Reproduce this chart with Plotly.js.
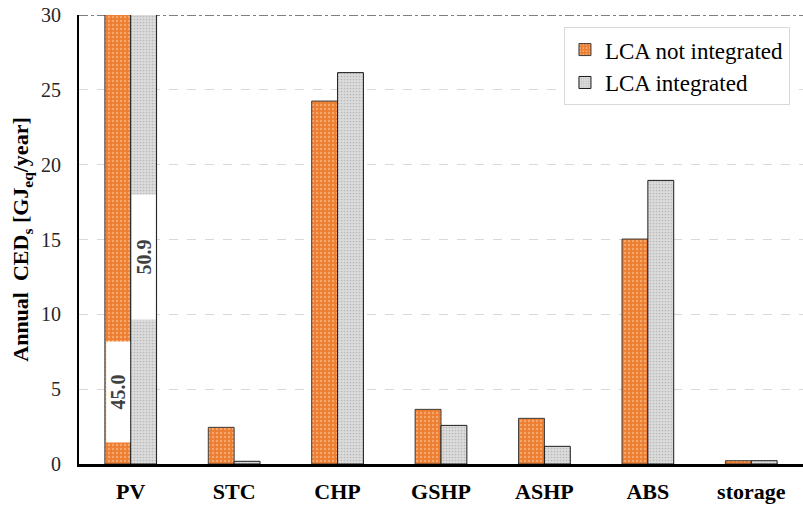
<!DOCTYPE html>
<html>
<head>
<meta charset="utf-8">
<script src="https://cdn.plot.ly/plotly-3.0.1.min.js"></script>
<style>
  html, body { margin: 0; padding: 0; background: #ffffff; }
  #chart { width: 803px; height: 508px; }
</style>
</head>
<body>
<div id="chart"></div>
<script>
// Technologies on the x axis
const categories = ['PV', 'STC', 'CHP', 'GSHP', 'ASHP', 'ABS', 'storage'];
// Annual cumulative energy demand per technology [GJeq/year]
const lcaNotIntegrated = [45.0, 2.45, 24.25, 3.65, 3.05, 15.03, 0.22];
const lcaIntegrated    = [50.9, 0.18, 26.15, 2.58, 1.18, 18.95, 0.22];
const seriesNames = ['LCA not integrated', 'LCA integrated'];
const yTicks = [0, 5, 10, 15, 20, 25, 30];

const serif = 'Liberation Serif';
const yMax = 30;

const traces = [
  {
    type: 'bar', name: seriesNames[0], x: categories, y: lcaNotIntegrated,
    marker: {
      color: '#ED7D31',
      line: { color: '#3a3a3a', width: 1 },
      pattern: { shape: '.', bgcolor: '#ED7D31', fgcolor: '#F5A86C', size: 4, solidity: 0.3 }
    },
    hoverinfo: 'x+y'
  },
  {
    type: 'bar', name: seriesNames[1], x: categories, y: lcaIntegrated,
    marker: {
      color: '#DADADA',
      line: { color: '#1a1a1a', width: 1 },
      pattern: { shape: '.', bgcolor: '#DCDCDC', fgcolor: '#B8B8B8', size: 3, solidity: 0.25 }
    },
    hoverinfo: 'x+y'
  }
];

// Values that run past the top of the axis are written inside their bars
const annotations = [];
const series = [lcaNotIntegrated, lcaIntegrated];
const boxLen = [100, 124];
const labelY = [4.8, 13.8];
series.forEach((vals, s) => {
  vals.forEach((v, i) => {
    if (v > yMax) {
      annotations.push({
        xref: 'x', yref: 'y',
        x: i + (s === 0 ? -0.125 : 0.125), y: labelY[s],
        text: '<b>' + v.toFixed(1) + '</b>',
        showarrow: false, textangle: -90,
        bgcolor: '#ffffff', borderpad: 0,
        width: boxLen[s], height: 23,
        font: { family: serif, size: 20, color: '#404040' }
      });
    }
  });
});

const layout = {
  width: 803, height: 508,
  margin: { l: 79, r: 0, t: 15, b: 44 },
  paper_bgcolor: '#ffffff', plot_bgcolor: '#ffffff',
  font: { family: serif, color: '#000000' },
  barmode: 'group', bargap: 0.5, bargroupgap: 0,
  showlegend: true,
  legend: {
    x: 0.982, xanchor: 'right', y: 0.973, yanchor: 'top',
    bgcolor: '#ffffff', bordercolor: '#d9d9d9', borderwidth: 1,
    font: { family: 'Times New Roman', size: 23, color: '#000000' }
  },
  xaxis: {
    type: 'category', range: [-0.5, 6.5],
    showline: true, linecolor: '#000000', linewidth: 2.5,
    showgrid: false, zeroline: false, ticks: '',
    tickfont: { family: serif, size: 22, color: '#000000', weight: 'bold' },
    ticklabelstandoff: 6
  },
  yaxis: {
    range: [0, yMax], tickvals: yTicks, ticktext: yTicks.map(String),
    showline: true, linecolor: '#000000', linewidth: 2,
    showgrid: true, gridcolor: '#d9d9d9', griddash: 'dash', gridwidth: 1,
    zeroline: false, ticks: '',
    tickfont: { family: serif, size: 20, color: '#262626' },
    ticklabelstandoff: 12,
    title: {
      text: '<b>Annual  CED<sub>s</sub> [GJ<sub>eq</sub>/year]</b>',
      font: { family: serif, size: 22, color: '#000000' },
      standoff: 6
    },
    automargin: false
  },
  shapes: [
    {
      type: 'line', xref: 'paper', yref: 'y', x0: 0, x1: 1, y0: yMax, y1: yMax,
      line: { color: '#000000', width: 1, dash: 'dashdot' }, layer: 'below'
    }
  ],
  annotations: annotations
};

// keep the legend entries in the serif face used by the rest of the chart
function serifLegend() {
  document.querySelectorAll('#chart .legendtext').forEach(el => {
    el.style.fontFamily = "'Liberation Serif', 'Times New Roman', serif";
  });
}

Plotly.newPlot('chart', traces, layout, { displayModeBar: false, staticPlot: true }).then(gd => {
  serifLegend();
  gd.on('plotly_afterplot', serifLegend);
});
</script>
</body>
</html>
